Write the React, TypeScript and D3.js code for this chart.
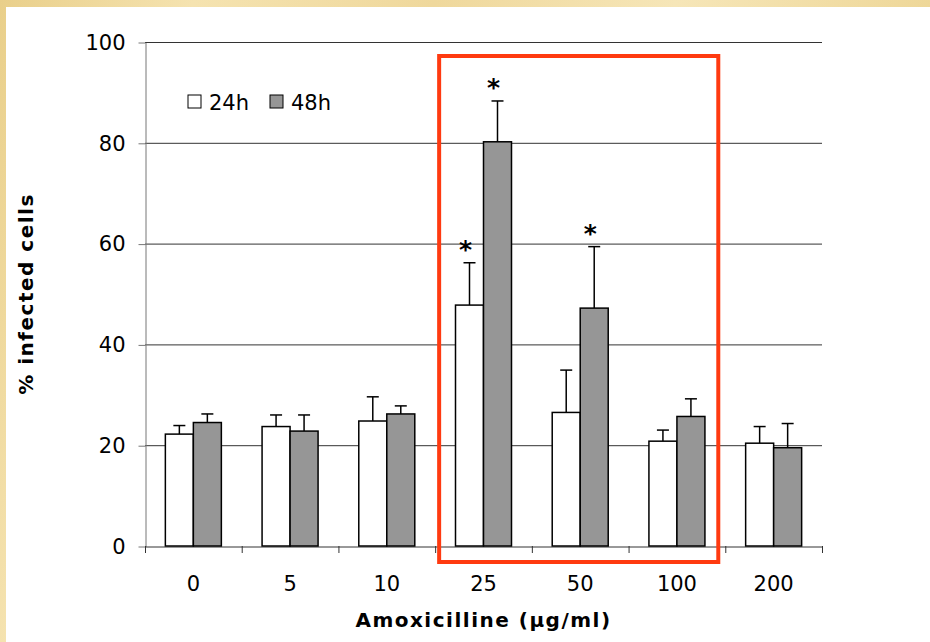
import * as d3 from 'd3';
import { useEffect, useRef } from 'react';

// concentrations of amoxicilline (µg/ml)
const doses = ['0', '5', '10', '25', '50', '100', '200'];
const seriesNames = ['24h', '48h'];

// % infected cells
const mean24 = [22.2, 23.7, 24.8, 47.8, 26.5, 20.8, 20.4];
const err24 = [1.7, 2.3, 4.8, 8.4, 8.4, 2.2, 3.3];
const mean48 = [24.5, 22.8, 26.2, 80.2, 47.2, 25.7, 19.5];
const err48 = [1.7, 3.2, 1.6, 8.1, 12.2, 3.5, 4.8];

// significance marks (series, dose)
const stars = [
  { series: '24h', dose: '25' },
  { series: '48h', dose: '25' },
  { series: '48h', dose: '50' },
];

// doses framed by the red box
const highlighted = ['25', '100'];

const yTicks = [0, 20, 40, 60, 80, 100];

export default function App() {
  const svgRef = useRef<SVGSVGElement>(null);

  const width = 930;
  const height = 642;
  const margin = { top: 42, bottom: 96, left: 145, right: 108 };
  const font = '"DejaVu Sans", Verdana, sans-serif';

  useEffect(() => {
    const svg = d3.select(svgRef.current);
    svg.selectAll('*').remove();

    // slide background
    const defs = svg.append('defs');
    const grad = defs
      .append('linearGradient')
      .attr('id', 'paper')
      .attr('x1', '0')
      .attr('y1', '0')
      .attr('x2', '1')
      .attr('y2', '0.2');
    [
      ['0', '#e9cf8a'],
      ['0.2', '#f5e3b0'],
      ['0.45', '#efd89c'],
      ['0.7', '#f6e6b8'],
      ['1', '#edd594'],
    ].forEach(([o, c]) => grad.append('stop').attr('offset', o).attr('stop-color', c));
    svg.append('rect').attr('width', width).attr('height', height).attr('fill', 'url(#paper)');
    svg
      .append('rect')
      .attr('x', 6)
      .attr('y', 7)
      .attr('width', width - 6)
      .attr('height', height - 7)
      .attr('fill', '#ffffff');

    const x0 = d3
      .scaleBand()
      .domain(doses)
      .range([margin.left, width - margin.right])
      .padding(0);
    const step = x0.step();
    const x1 = d3
      .scaleBand()
      .domain(seriesNames)
      .range([step / 2 - 28, step / 2 + 28])
      .padding(0);
    const y = d3
      .scaleLinear()
      .domain([0, 100])
      .range([height - margin.bottom, margin.top]);

    // gridlines
    svg
      .append('g')
      .selectAll('line')
      .data(yTicks.filter((t) => t > 0))
      .enter()
      .append('line')
      .attr('x1', margin.left)
      .attr('x2', width - margin.right)
      .attr('y1', (d) => y(d) + 0.5)
      .attr('y2', (d) => y(d) + 0.5)
      .attr('stroke', '#333')
      .attr('stroke-width', 1);

    // y axis
    const yAxis = d3.axisLeft(y).tickValues(yTicks).tickSize(7).tickSizeOuter(0).tickPadding(13);
    const gy = svg
      .append('g')
      .attr('transform', `translate(${margin.left + 0.5},0.5)`)
      .call(yAxis);
    gy.select('.domain').attr('stroke', '#777');
    gy.selectAll('.tick line').attr('stroke', '#777');
    gy.selectAll('.tick text')
      .attr('font-family', font)
      .attr('font-size', 21)
      .attr('fill', '#000');

    // x axis
    const xAxis = d3
      .axisBottom(x0)
      .tickSize(0)
      .tickPadding(30);
    const gx = svg
      .append('g')
      .attr('transform', `translate(0,${y(0) + 0.5})`)
      .call(xAxis);
    gx.select('.domain').attr('stroke', '#333');
    gx.selectAll('.tick text')
      .attr('font-family', font)
      .attr('font-size', 21)
      .attr('fill', '#000');
    // Excel style tick marks between categories
    svg
      .append('g')
      .selectAll('line')
      .data(doses.concat(['end']))
      .enter()
      .append('line')
      .attr('x1', (d, i) => margin.left + i * step + 0.5)
      .attr('x2', (d, i) => margin.left + i * step + 0.5)
      .attr('y1', y(0))
      .attr('y2', y(0) + 7)
      .attr('stroke', '#333');

    const rows = doses.map((d, i) => ({
      dose: d,
      values: [
        { series: '24h', mean: mean24[i], err: err24[i] },
        { series: '48h', mean: mean48[i], err: err48[i] },
      ],
    }));

    const groups = svg
      .append('g')
      .selectAll('g')
      .data(rows)
      .enter()
      .append('g')
      .attr('transform', (d) => `translate(${x0(d.dose)},0)`);

    // error bars (upper half only)
    groups
      .selectAll('g.err')
      .data((d) => d.values)
      .enter()
      .append('g')
      .attr('class', 'err')
      .each(function (d) {
        const g = d3.select(this);
        const cx = (x1(d.series) as number) + x1.bandwidth() / 2;
        g.append('line')
          .attr('x1', cx)
          .attr('x2', cx)
          .attr('y1', y(d.mean))
          .attr('y2', y(d.mean + d.err))
          .attr('stroke', '#000')
          .attr('stroke-width', 1.5);
        g.append('line')
          .attr('x1', cx - 6)
          .attr('x2', cx + 6)
          .attr('y1', y(d.mean + d.err))
          .attr('y2', y(d.mean + d.err))
          .attr('stroke', '#000')
          .attr('stroke-width', 1.5);
      });

    // bars
    groups
      .selectAll('rect')
      .data((d) => d.values)
      .enter()
      .append('rect')
      .attr('x', (d) => x1(d.series) as number)
      .attr('width', x1.bandwidth())
      .attr('y', (d) => y(d.mean))
      .attr('height', (d) => y(0) - y(d.mean))
      .attr('fill', (d) => (d.series === '24h' ? '#ffffff' : '#969696'))
      .attr('stroke', '#000')
      .attr('stroke-width', 1.5);

    // asterisks
    svg
      .append('g')
      .selectAll('text')
      .data(stars)
      .enter()
      .append('text')
      .attr('x', (d) => (x0(d.dose) as number) + (x1(d.series) as number) + x1.bandwidth() / 2 - 4)
      .attr('y', (d) => {
        const i = doses.indexOf(d.dose);
        const top = d.series === '24h' ? mean24[i] + err24[i] : mean48[i] + err48[i];
        return y(top) - 5;
      })
      .attr('text-anchor', 'middle')
      .attr('font-family', font)
      .attr('font-weight', 'bold')
      .attr('font-size', 25)
      .text('*');

    // red highlight frame
    const fx0 = (x0(highlighted[0]) as number) + 4;
    const fx1 = (x0(highlighted[1]) as number) + step - 7;
    svg
      .append('rect')
      .attr('x', fx0)
      .attr('y', 56)
      .attr('width', fx1 - fx0)
      .attr('height', 562 - 56)
      .attr('fill', 'none')
      .attr('stroke', '#ff3a10')
      .attr('stroke-width', 4);

    // legend
    const legend = svg
      .append('g')
      .selectAll('g')
      .data(seriesNames)
      .enter()
      .append('g')
      .attr('transform', (d, i) => `translate(${188 + i * 82},95)`);
    legend
      .append('rect')
      .attr('width', 13)
      .attr('height', 13)
      .attr('fill', (d) => (d === '24h' ? '#ffffff' : '#969696'))
      .attr('stroke', '#000')
      .attr('stroke-width', 1);
    legend
      .append('text')
      .attr('x', 21)
      .attr('y', 14.5)
      .attr('font-family', font)
      .attr('font-size', 21)
      .text((d) => d);

    // axis titles
    svg
      .append('text')
      .attr('x', (margin.left + width - margin.right) / 2)
      .attr('y', 627)
      .attr('text-anchor', 'middle')
      .attr('font-family', font)
      .attr('font-weight', 'bold')
      .attr('font-size', 20)
      .attr('letter-spacing', 1.5)
      .text('Amoxicilline (µg/ml)');
    svg
      .append('text')
      .attr('transform', `translate(33,${(margin.top + height - margin.bottom) / 2}) rotate(-90)`)
      .attr('text-anchor', 'middle')
      .attr('font-family', font)
      .attr('font-weight', 'bold')
      .attr('font-size', 20)
      .attr('letter-spacing', 1.5)
      .text('% infected cells');
  }, []);

  return (
    <svg
      ref={svgRef}
      width={width}
      height={height}
      style={{ position: 'absolute', left: 0, top: 0 }}
    />
  );
}
